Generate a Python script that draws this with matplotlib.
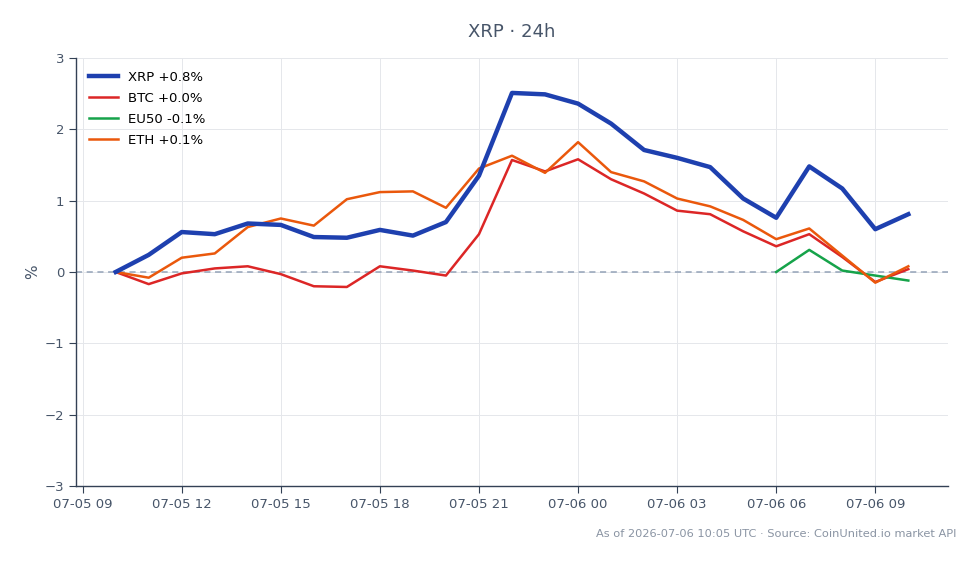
import numpy as np
import pandas as pd
import matplotlib
matplotlib.use("Agg")
import matplotlib.pyplot as plt
import matplotlib.dates as mdates

# hourly points, 07-05 10:00 -> 07-06 10:00 UTC
times = pd.date_range("2026-07-05 10:00", "2026-07-06 10:00", freq="h")

xrp = [0.00, 0.24, 0.56, 0.53, 0.68, 0.66, 0.49, 0.48, 0.59, 0.51, 0.70, 1.35, 2.51,
       2.49, 2.36, 2.08, 1.71, 1.60, 1.47, 1.03, 0.76, 1.48, 1.17, 0.60, 0.81]
btc = [0.00, -0.17, -0.02, 0.05, 0.08, -0.03, -0.20, -0.21, 0.08, 0.02, -0.05, 0.53, 1.57,
       1.41, 1.58, 1.30, 1.10, 0.86, 0.81, 0.57, 0.36, 0.53, 0.21, -0.14, 0.04]
eth = [0.00, -0.08, 0.20, 0.26, 0.63, 0.75, 0.65, 1.02, 1.12, 1.13, 0.90, 1.45, 1.63,
       1.39, 1.82, 1.40, 1.27, 1.03, 0.92, 0.73, 0.46, 0.61, 0.23, -0.15, 0.08]
# EU50 only trades for the last few hours
eu50_times = times[20:]
eu50 = [0.00, 0.31, 0.02, -0.05, -0.12]

labels = ["XRP +0.8%", "BTC +0.0%", "EU50 -0.1%", "ETH +0.1%"]

txt = "#475569"
spine = "#334155"

plt.rcParams["font.family"] = ["DejaVu Sans"]
fig = plt.figure(figsize=(9.8, 5.64), dpi=100)
ax = fig.add_axes([0.0776, 0.1383, 0.8897, 0.7589])

ax.plot(times, xrp, color="#1e40af", lw=3.2, label=labels[0], zorder=4)
ax.plot(times, btc, color="#dc2626", lw=1.8, label=labels[1], zorder=3)
ax.plot(eu50_times, eu50, color="#16a34a", lw=1.8, label=labels[2], zorder=3)
ax.plot(times, eth, color="#ea580c", lw=1.8, label=labels[3], zorder=3)
ax.axhline(0, color="#94a3b8", lw=1.1, ls=(0, (4, 3)), zorder=2)

ax.set_ylim(-3, 3)
ax.set_yticks([-3, -2, -1, 0, 1, 2, 3])
ax.set_yticklabels(["\u22123", "\u22122", "\u22121", "0", "1", "2", "3"])
ax.set_ylabel("%", color=txt, fontsize=11, labelpad=3)

ax.xaxis.set_major_locator(mdates.HourLocator(byhour=[0, 3, 6, 9, 12, 15, 18, 21]))
ax.xaxis.set_major_formatter(mdates.DateFormatter("%m-%d %H"))

ax.grid(True, color="#e5e7eb", lw=0.7)
ax.set_axisbelow(True)
for s in ["top", "right"]:
    ax.spines[s].set_visible(False)
for s in ["left", "bottom"]:
    ax.spines[s].set_color(spine)
    ax.spines[s].set_linewidth(1.0)
ax.tick_params(colors=spine, labelcolor=txt, labelsize=9.5, length=5)

ax.legend(loc="upper left", frameon=False, fontsize=9.5, handlelength=2.2,
          borderaxespad=0.55, labelspacing=0.62)

fig.text(0.5225, 0.944, "XRP \u00b7 24h", ha="center", va="center", fontsize=13, color=txt)
fig.text(0.976, 0.054, "As of 2026-07-06 10:05 UTC \u00b7 Source: CoinUnited.io market API",
         ha="right", va="center", fontsize=8.2, color="#8a94a3")

fig.savefig("out.png", dpi=100)
